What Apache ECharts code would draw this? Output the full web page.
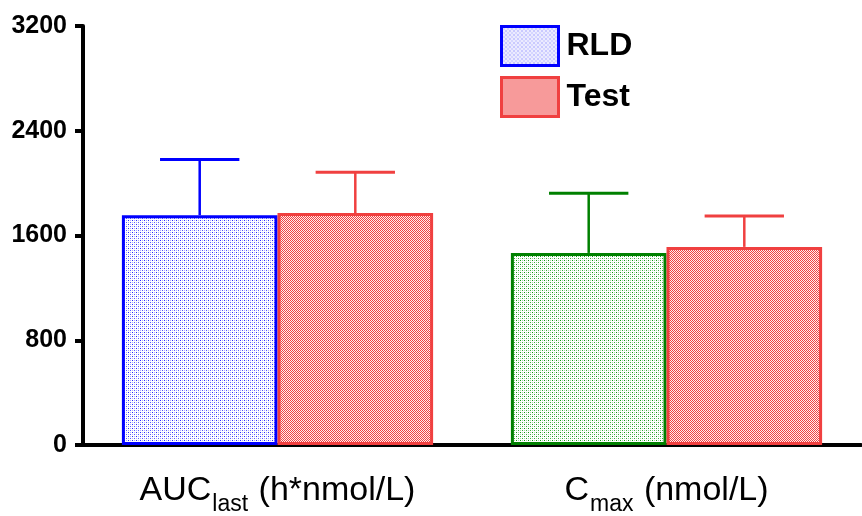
<!DOCTYPE html>
<html>
<head>
<meta charset="utf-8">
<script src="https://cdn.jsdelivr.net/npm/echarts@6/dist/echarts.min.js"></script>
<style>html,body{margin:0;padding:0;background:#fff}#chart{width:862px;height:516px}</style>
</head>
<body>
<div id="chart"></div>
<script>
// ---- data ----
const categoryMain = ['AUC', 'C'];
const categorySub = ['last', 'max'];
const categoryUnit = ['(h*nmol/L)', '(nmol/L)'];
const categories = categoryMain.map((m, i) => m + categorySub[i] + ' ' + categoryUnit[i]);
const seriesNames = ['RLD', 'Test'];
const rldMean = [1755, 1467];
const rldSD = [426, 456];
const testMean = [1771, 1513];
const testSD = [312, 235];
const yTicks = [0, 800, 1600, 2400, 3200];

// ---- patterns ----
function makePattern(size, bg, dots) {
  const c = document.createElement('canvas');
  c.width = size; c.height = size;
  const ctx = c.getContext('2d');
  ctx.fillStyle = bg; ctx.fillRect(0, 0, size, size);
  dots.forEach(d => { ctx.fillStyle = d[2]; ctx.fillRect(d[0], d[1], 1, 1); });
  return { image: c, repeat: 'repeat' };
}
const bluePat = makePattern(4, '#ffffff', [[0,0,'#2a2aff'],[2,2,'#5a5aff'],[2,0,'#b0b0ff'],[0,2,'#b0b0ff']]);
const greenPat = makePattern(4, '#ffffff', [[0,0,'#129612'],[2,2,'#3aaa3a'],[2,0,'#a8dca8'],[0,2,'#a8dca8']]);
const redPat = makePattern(2, '#f04444', [[1,0,'#fff0f0'],[0,1,'#fff0f0']]);

const BLUE = '#0000ff', RED = '#f04040', GREEN = '#008000';
const rldColors = [BLUE, GREEN];
const testColors = [RED, RED];
const rldFills = [bluePat, greenPat];

function errRender(sign, colors) {
  return function (params, api) {
    const i = api.value(0);
    const lo = api.coord([i, api.value(1)]);
    const hi = api.coord([i, api.value(2)]);
    const band = api.size([1, 0])[0];
    const x = lo[0] + sign * band * 0.2;
    const cap = band * 0.102;
    const col = colors[i];
    return {
      type: 'group',
      children: [
        { type: 'line', shape: { x1: x, y1: lo[1], x2: x, y2: hi[1] }, style: { stroke: col, lineWidth: 2.5 } },
        { type: 'line', shape: { x1: x - cap, y1: hi[1], x2: x + cap, y2: hi[1] }, style: { stroke: col, lineWidth: 3 } }
      ]
    };
  };
}

const FONT = 'Liberation Sans, Arial, sans-serif';
const chart = echarts.init(document.getElementById('chart'), null, { renderer: 'canvas' });
chart.setOption({
  backgroundColor: '#fff',
  animation: false,
  grid: { left: 83, right: 1, top: 26, bottom: 69, containLabel: false },
  legend: {
    orient: 'vertical', left: 500, top: 25, padding: 0,
    itemWidth: 57, itemHeight: 39, itemGap: 9,
    icon: 'rect',
    textStyle: { fontSize: 32, fontWeight: 'bold', color: '#000', fontFamily: FONT, padding: [0, 0, 0, 3] },
    data: [
      { name: seriesNames[0], itemStyle: { color: bluePat, borderColor: BLUE, borderWidth: 3 } },
      { name: seriesNames[1], itemStyle: { color: redPat, borderColor: RED, borderWidth: 3 } }
    ]
  },
  xAxis: {
    type: 'category',
    data: categories,
    axisLine: { lineStyle: { color: '#000', width: 4 } },
    axisTick: { show: false },
    axisLabel: {
      margin: 29,
      interval: 0,
      formatter: function (v, i) {
        return '{m|' + categoryMain[i] + '}{s|' + categorySub[i] + '}{m| ' + categoryUnit[i] + '}';
      },
      rich: {
        m: { fontSize: 34, lineHeight: 37, verticalAlign: 'top', color: '#000', fontFamily: FONT },
        s: { fontSize: 23, lineHeight: 20, padding: [19, 1, 0, 1], verticalAlign: 'top', color: '#000', fontFamily: FONT }
      }
    }
  },
  yAxis: {
    type: 'value',
    min: yTicks[0], max: yTicks[yTicks.length - 1], interval: 800,
    splitLine: { show: false },
    axisLine: { show: true, lineStyle: { color: '#000', width: 4 } },
    axisTick: { show: true, length: 8, lineStyle: { color: '#000', width: 4 } },
    axisLabel: { margin: 16, fontSize: 25, fontWeight: 'bold', color: '#000', fontFamily: FONT,
      formatter: function (v) { return String(v); } }
  },
  series: [
    {
      name: seriesNames[0], type: 'bar', barGap: '0%', barCategoryGap: '20%',
      itemStyle: { color: bluePat, borderColor: BLUE, borderWidth: 3 },
      data: rldMean.map((v, i) => ({ value: v, itemStyle: { color: rldFills[i], borderColor: rldColors[i] } }))
    },
    {
      name: seriesNames[1], type: 'bar', barGap: '0%', barCategoryGap: '20%',
      itemStyle: { color: redPat, borderColor: RED, borderWidth: 3 },
      data: testMean
    },
    {
      name: 'RLD SD', type: 'custom', z: 5,
      renderItem: errRender(-1, rldColors),
      encode: { x: 0, y: [1, 2] },
      data: rldMean.map((v, i) => [i, v, v + rldSD[i]])
    },
    {
      name: 'Test SD', type: 'custom', z: 5,
      renderItem: errRender(1, testColors),
      encode: { x: 0, y: [1, 2] },
      data: testMean.map((v, i) => [i, v, v + testSD[i]])
    }
  ]
});
</script>
</body>
</html>
